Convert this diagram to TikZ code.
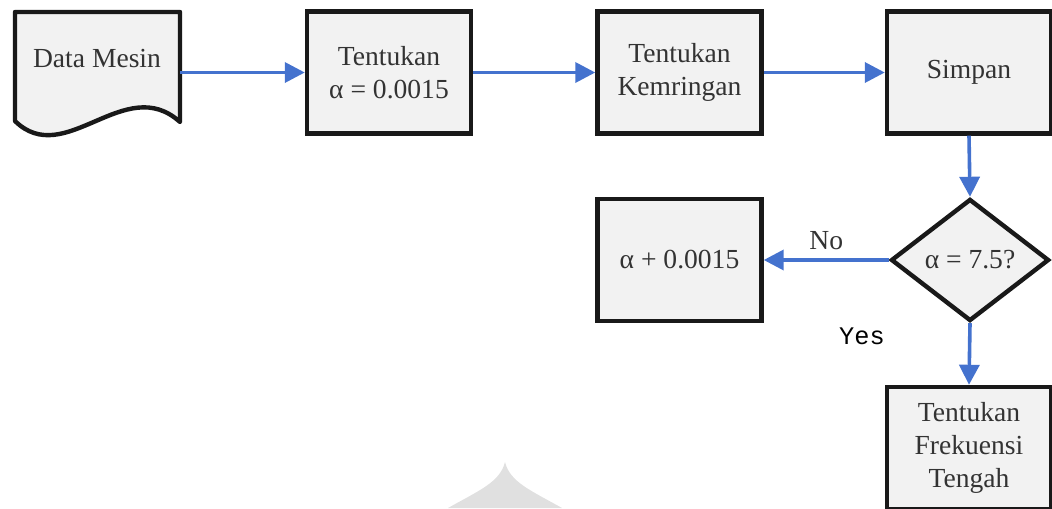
\documentclass[tikz,border=0pt]{standalone}
\usepackage{fontspec}
\setmainfont{Liberation Serif}
\newfontfamily\monofont{Liberation Mono}
\usetikzlibrary{shapes.geometric,arrows.meta}

\definecolor{flowblue}{RGB}{68,114,206}
\definecolor{boxgray}{RGB}{242,242,242}

\begin{document}
\begin{tikzpicture}[x=0.025cm, y=-0.025cm,
    every node/.style={text=black!80, font=\fontsize{19.6}{23.5}\selectfont},
    box/.style={draw=black!90, line width=0.11cm, fill=boxgray, align=center,
        minimum width=4.1cm, minimum height=3.05cm, inner sep=0pt},
    decision/.style={diamond, draw=black!90, line width=0.11cm, fill=boxgray,
        minimum width=3.95cm, minimum height=3.05cm, inner sep=0pt},
    flow/.style={draw=flowblue, line width=0.09cm,
        -{Triangle[length=0.5cm, width=0.5cm]}}]
\useasboundingbox (0,0) rectangle (1052,508);

% faint mark at the bottom
\fill[black!12] (448,508) .. controls (480,490) and (500,482) .. (505,462)
    .. controls (510,482) and (530,490) .. (562,508) -- cycle;

% document shape with a wavy bottom
\draw[line width=0.11cm, draw=black!90, fill=boxgray, line join=round]
    (15,121) -- (15,12) -- (180,12) -- (180,122)
    .. controls (125,72) and (65,170) .. (15,121) -- cycle;
\node[minimum width=4.1cm, minimum height=3.05cm, inner sep=0pt] (data) at (97.5,72.5) {};
\node (datatext) at (97,59) {Data Mesin};

\node[box] (alpha) at (389,72.5) {Tentukan\\α = 0.0015};
\node[box] (slope) at (679.5,72.5) {Tentukan\\Kemringan};
\node[box] (save) at (969,72.5) {Simpan};
\node[decision] (check) at (970,260) {α = 7.5?};
\node[box] (step) at (679.5,260) {α + 0.0015};
\node[box] (freq) at (969,448) {Tentukan\\Frekuensi\\Tengah};

\draw[flow] (data.east) -- (alpha.west);
\draw[flow] (alpha.east) -- (slope.west);
\draw[flow] (slope.east) -- (save.west);
\draw[flow] (save.south) -- (check.north);
\draw[flow] (check.west) -- node[above=3pt] (no) {No} (step.east);
\draw[flow] (check.south) -- (freq.north);
\node[font=\monofont\fontsize{18}{20}\selectfont, text=black] (yes) at (862,336) {Yes};
\end{tikzpicture}
\end{document}
